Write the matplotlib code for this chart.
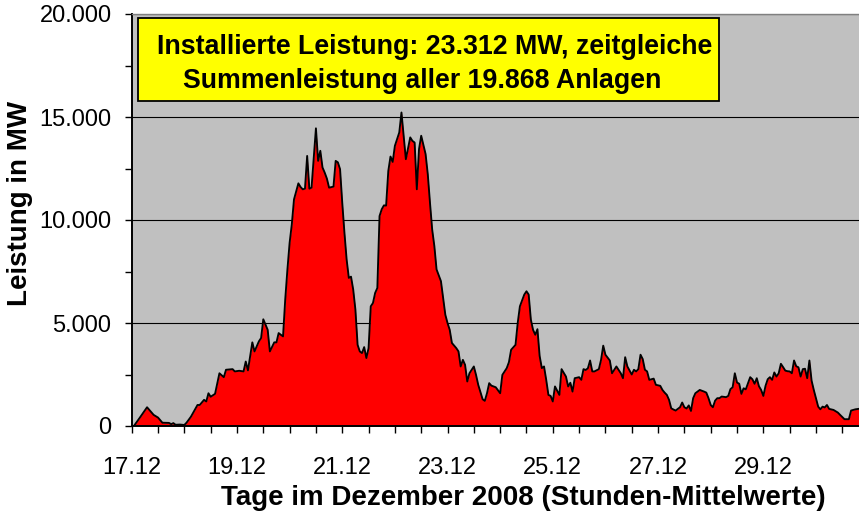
import matplotlib
matplotlib.use("Agg")
import matplotlib.pyplot as plt
from matplotlib.ticker import MultipleLocator, FuncFormatter
from matplotlib.patches import Rectangle

plt.rcParams['font.family'] = ['Liberation Sans', 'DejaVu Sans']

# hours since 17.12.2008 00:00 and wind feed-in (MW)
hours = [0, 1, 4, 7, 10, 12, 14, 17, 18, 19, 20, 22, 24, 25, 27, 30, 31, 33, 34, 35,
         36, 38, 40, 42, 43, 46, 47, 49, 51, 52, 53, 55, 56, 58, 59, 60,
         62, 63, 65, 66, 67, 69, 70, 71, 72, 73, 74, 76, 77, 78, 79, 80, 81, 82, 84,
         85, 86, 87, 88, 89, 90, 92, 93, 94, 95, 96, 97, 98, 99, 100, 101, 102, 103,
         104, 105, 106, 107, 108, 109, 110, 111, 112, 113, 114, 115, 116, 117, 118,
         119, 120, 122, 123, 124, 125, 127, 128, 129, 130, 131, 132, 134, 135, 136,
         137, 138, 139, 141, 142, 143, 144, 145, 146, 148, 149, 150, 151, 152, 153,
         154, 156, 157, 158, 160, 161, 162, 163, 164, 166, 168, 169, 171, 172, 173,
         175, 176, 177, 179, 180, 181, 182, 183, 184, 185, 186, 187, 188, 189, 190,
         191, 192, 193, 195, 196, 198, 199, 200, 201, 202, 204, 205, 206, 207, 208,
         209, 210, 211, 213, 214, 215, 216, 218, 219, 220, 221, 223, 224, 225, 226,
         228, 229, 230, 231, 232, 233, 234, 235, 236, 238, 239, 241, 242, 243, 244,
         245, 246, 247, 248, 250, 251, 252, 253, 254, 255, 256, 257, 258, 259, 261,
         262, 263, 264, 265, 266, 267, 268, 269, 271, 272, 273, 274, 275, 276, 277,
         278, 279, 280, 282, 283, 284, 285, 286, 287, 288, 289, 290, 291, 292, 293,
         294, 295, 296, 297, 298, 299, 300, 301, 302, 303, 304, 305, 306, 307, 308,
         309, 310, 311, 312, 313, 314, 315, 316, 317, 318, 320, 322, 323, 325, 327,
         328, 330, 332]
mw = [0, 0, 450, 910, 540, 410, 160, 150, 90, 140, 60, 70, 50, 160, 450, 1020, 1020, 1270, 1190, 1590,
      1420, 1560, 2560, 2370, 2730, 2760, 2650, 2680, 2650, 3130, 2700, 4060, 3620, 4110, 4270, 5180,
      4670, 3620, 4060, 4060, 4510, 4350, 6140, 7600, 8890, 9790, 11000, 11780, 11600, 11490, 11520, 13110, 11520, 11570, 14450,
      12870, 13360, 12550, 12300, 12010, 11570, 11620, 12870, 12800, 12470, 10840, 9380, 8080, 7190, 7250, 6620, 5650, 3940,
      3620, 3540, 3830, 3300, 3780, 5810, 5970, 6460, 6700, 10190, 10520, 10710, 10700, 12380, 13080,
      12820, 13600, 14250, 15220, 14090, 12950, 14010, 13840, 13760, 11490, 13440, 14090, 13200, 12220, 10840,
      9540, 8730, 7600, 7030, 6220, 5400, 5000, 4670, 4030, 3780, 3620, 2890, 3210, 2970, 2160,
      2560, 2890, 2480, 2000, 1300, 1220, 1590, 2080, 1960, 1880, 1590, 2480, 2810, 3100, 3700,
      3940, 5000, 5810, 6380, 6540, 6380, 5160, 4670, 4430, 4700, 3400, 2810, 2890, 2240, 1510,
      1460, 1190, 1920, 1510, 2760, 2400, 1920, 2100, 1670, 2320, 2370, 2240, 2760, 2720, 2800,
      3180, 2650, 2650, 2760, 3210, 3900, 3460, 3180, 2560, 2730, 2890, 2560, 2320, 3340, 2890,
      2500, 2730, 2650, 2760, 3460, 3250, 2730, 2650, 2240, 2300, 2000, 1950, 1750, 1620, 1510,
      1270, 860, 800, 750, 910, 1140, 910, 850, 1000, 730, 1350, 1590, 1670, 1750, 1670,
      1620, 1350, 1020, 910, 1230, 1350, 1350, 1430, 1400, 1460, 1790, 1880, 2560, 2110, 2050,
      1560, 1830, 1780, 2370, 2270, 2050, 2320, 1930, 1750, 1460, 1950, 2270, 2370, 2240, 2600,
      2400, 2560, 3020, 2860, 2690, 2660, 2650, 2560, 3180, 2900, 2850, 2400, 2760, 2780, 2320,
      3180, 2200, 1750, 1350, 940, 810, 940, 900, 1020, 830, 780, 650, 540, 330, 330,
      750, 810, 840]
assert len(hours) == len(mw)

day_labels = ["17.12", "19.12", "21.12", "23.12", "25.12", "27.12", "29.12"]
box_line1 = "Installierte Leistung: 23.312 MW, zeitgleiche"
box_line2 = "Summenleistung aller 19.868 Anlagen"
x_title = "Tage im Dezember 2008 (Stunden-Mittelwerte)"
y_title = "Leistung in MW"

W, H = 859, 514
fig = plt.figure(figsize=(W / 100, H / 100), dpi=100)
fig.patch.set_facecolor('white')

def fx(px):
    return px / W

def fy(py):
    return 1 - py / H

left, right, top, bottom = 131.7, 859, 14, 426
ax = fig.add_axes([fx(left), fy(bottom), fx(right) - fx(left), fy(top) - fy(bottom)])
ax.set_facecolor('#C0C0C0')
ax.set_axisbelow(True)

ax.fill_between(hours, mw, 0, color='#FF0000', lw=0, zorder=2)
ax.plot(hours, mw, color='black', lw=1.35, zorder=3, solid_joinstyle='round')

hours_per_px = 324 / 710.6
ax.set_xlim(0, (right - left) * hours_per_px)
ax.set_ylim(0, 20000)

ax.yaxis.set_major_locator(MultipleLocator(5000))
ax.yaxis.set_minor_locator(MultipleLocator(2500))
ax.yaxis.set_major_formatter(FuncFormatter(lambda v, p: f"{int(v):,}".replace(",", ".")))
ax.grid(axis='y', which='major', color='black', lw=0.8)

ax.xaxis.set_major_locator(MultipleLocator(48))
ax.xaxis.set_minor_locator(MultipleLocator(12))
ax.xaxis.set_major_formatter(FuncFormatter(
    lambda v, p: day_labels[int(round(v / 48))] if 0 <= int(round(v / 48)) < len(day_labels) else ""))

ax.tick_params(axis='both', which='both', direction='out', length=5, width=1, color='black')
ax.tick_params(axis='x', which='major', labelsize=17, pad=17)
ax.tick_params(axis='y', which='major', labelsize=17, pad=9.5)

for s in ['left', 'bottom']:
    ax.spines[s].set_color('black')
    ax.spines[s].set_linewidth(1.4)
ax.spines['top'].set_color('#808080')
ax.spines['top'].set_linewidth(1.0)
ax.spines['right'].set_visible(False)

# axis titles
fig.text(fx(523.5), fy(498), x_title, ha='center', va='center', fontsize=20, fontweight='bold')
fig.text(fx(20), fy(203), y_title, ha='center', va='center', rotation=90, fontsize=20, fontweight='bold')

# yellow annotation box
bx0, by0, bx1, by1 = 138.3, 17.7, 719, 101
fig.patches.append(Rectangle((fx(bx0), fy(by1)), fx(bx1) - fx(bx0), fy(by0) - fy(by1),
                             transform=fig.transFigure, facecolor='#FFFF00', edgecolor='black',
                             lw=1.3, zorder=5))
fig.text(fx(156.7), fy(54.3), box_line1, ha='left', va='baseline', fontsize=19.3,
         fontweight='bold', zorder=6)
fig.text(fx(183.3), fy(88.3), box_line2, ha='left', va='baseline', fontsize=19.3,
         fontweight='bold', zorder=6)

fig.savefig('out.png', dpi=100)
